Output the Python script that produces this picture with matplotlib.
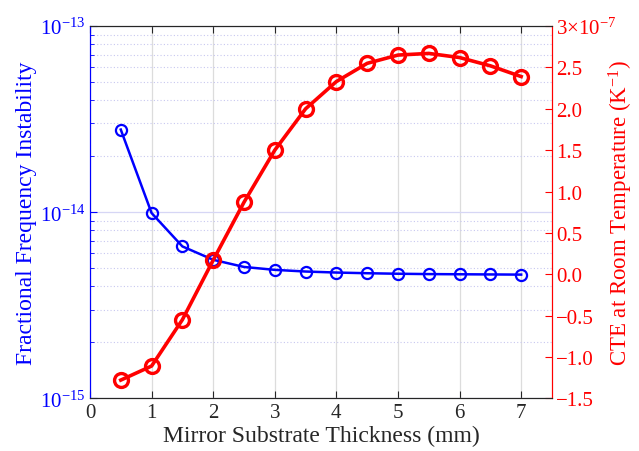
import numpy as np
import matplotlib.pyplot as plt
from matplotlib.ticker import FixedLocator, LogLocator, NullFormatter

plt.rcParams['font.family'] = ['Liberation Serif', 'DejaVu Serif']
plt.rcParams['mathtext.fontset'] = 'custom'
plt.rcParams['mathtext.rm'] = 'Liberation Serif'
plt.rcParams['mathtext.it'] = 'Liberation Serif:italic'

# data
thickness = [0.5, 1.0, 1.5, 2.0, 2.5, 3.0, 3.5, 4.0, 4.5, 5.0, 5.5, 6.0, 6.5, 7.0]
instability = [2.78e-14, 9.9e-15, 6.55e-15, 5.55e-15, 5.08e-15, 4.9e-15, 4.8e-15,
               4.74e-15, 4.7e-15, 4.67e-15, 4.65e-15, 4.64e-15, 4.63e-15, 4.62e-15]
cte = [-1.28e-7, -1.11e-7, -0.55e-7, 0.17e-7, 0.87e-7, 1.50e-7, 2.00e-7,
       2.33e-7, 2.55e-7, 2.65e-7, 2.67e-7, 2.62e-7, 2.52e-7, 2.39e-7]
cte_ticks = [-1.5e-7, -1.0e-7, -0.5e-7, 0.0, 0.5e-7, 1.0e-7, 1.5e-7, 2.0e-7, 2.5e-7, 3.0e-7]

blue = '#0000ff'
red = '#ff0000'

fig = plt.figure(figsize=(6.39, 4.52), dpi=100)
ax = fig.add_axes([0.1408, 0.1166, 0.7230, 0.8234])
ax2 = ax.twinx()

# left axis: log scale instability
ax.plot(thickness, instability, color=blue, lw=1.8, marker='o', ms=8,
        mfc='none', mec=blue, mew=1.6, zorder=3)
ax.set_yscale('log')
ax.set_ylim(1e-15, 1e-13)
ax.set_xlim(0, 7.5)
ax.set_xticks(range(0, 8))
ax.yaxis.set_major_locator(FixedLocator([1e-15, 1e-14, 1e-13]))
ax.yaxis.set_minor_locator(LogLocator(base=10, subs=np.arange(2, 10)))
ax.yaxis.set_minor_formatter(NullFormatter())
ax.grid(True, axis='x', color='#dcdcdc', lw=0.9)
ax.grid(True, axis='y', which='major', color='#d6d6f5', lw=0.9)
ax.grid(True, axis='y', which='minor', color='#c8c8f0', lw=0.8, ls=(0, (1, 2)))
ax.set_axisbelow(True)

ax.tick_params(axis='x', direction='in', top=True, labelsize=15, colors='#262626',
               length=5)
ax.tick_params(axis='y', which='both', direction='in', colors=blue, labelsize=15)
ax.tick_params(axis='y', which='major', length=5)
ax.tick_params(axis='y', which='minor', length=3)
ax.set_xlabel('Mirror Substrate Thickness (mm)', fontsize=17, color='#262626',
              labelpad=2)
ax.set_ylabel('Fractional Frequency Instability', fontsize=17, color=blue,
              labelpad=2)

# right axis: CTE
ax2.plot(thickness, cte, color=red, lw=2.6, marker='o', ms=10,
         mfc='none', mec=red, mew=2.4, zorder=4)
ax2.set_ylim(-1.5e-7, 3e-7)
ax2.set_yticks(cte_ticks)
labels = ['\u2212%.1f' % abs(v * 1e7) if v < 0 else '%.1f' % (v * 1e7) for v in cte_ticks]
labels[-1] = r'3$\times$10$^{-7}$'
ax2.set_yticklabels(labels)
ax2.tick_params(axis='y', direction='in', colors=red, labelsize=15, length=5, pad=3)
ax2.set_ylabel('CTE at Room Temperature (K$^{-1}$)', fontsize=16.5, color=red)
ax2.yaxis.set_label_coords(1.118, 0.5)

for a in (ax, ax2):
    a.spines['left'].set_color(blue)
    a.spines['right'].set_color(red)
    a.spines['top'].set_color('#262626')
    a.spines['bottom'].set_color('#262626')
    for s in a.spines.values():
        s.set_linewidth(0.8)

fig.savefig('out.png', dpi=100)
